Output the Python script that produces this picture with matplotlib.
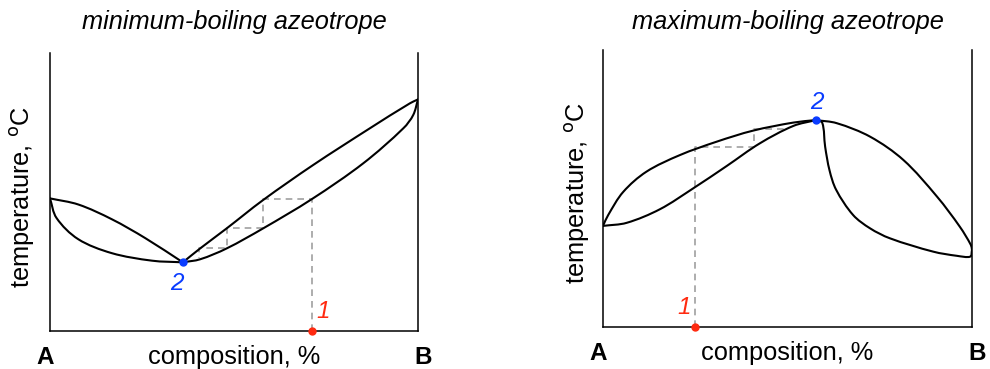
import matplotlib.pyplot as plt
import numpy as np
from matplotlib.patches import PathPatch
from matplotlib.path import Path

plt.rcParams["font.family"] = ["Liberation Sans", "DejaVu Sans"]

# minimum-boiling azeotrope (composition %, temperature in arbitrary units 0-100)
min_vap_left_x = [0, 7.7, 16.8, 25.9, 36.1]
min_vap_left_t = [47.7, 45.5, 40.2, 33.4, 24.7]
min_liq_left_x = [0, 1.8, 7.7, 16.8, 27.7, 36.1]
min_liq_left_t = [47.7, 40.6, 33.0, 28.0, 25.3, 24.7]
min_vap_right_x = [36.1, 40.8, 48.0, 57.9, 71.5, 86.9, 97.8, 100]
min_vap_right_t = [24.7, 29.7, 36.9, 47.1, 59.7, 72.9, 81.9, 83.3]
min_liq_right_x = [36.1, 40.8, 48.0, 57.9, 71.1, 85.1, 96.0, 98.7, 100]
min_liq_right_t = [24.7, 25.8, 29.7, 36.9, 47.4, 60.3, 72.9, 77.7, 83.3]
min_step_x = [71.1, 71.1, 57.8, 57.8, 48.0, 48.0, 40.6, 40.6]
min_step_t = [0, 47.4, 47.4, 36.9, 36.9, 29.7, 29.7, 26.2]
min_start = (71.1, 0)
min_azeo = (36.1, 24.7)

# maximum-boiling azeotrope
max_liq_left_x = [0, 1.4, 5.5, 11.8, 20.9, 30.8, 40.7, 51.6, 57.7]
max_liq_left_t = [36.5, 40.4, 48.8, 56.1, 62.1, 66.9, 70.9, 73.8, 74.7]
max_vap_left_x = [0, 6.4, 15.4, 24.5, 33.5, 42.5, 51.6, 57.7]
max_vap_left_t = [36.5, 37.6, 42.5, 50.1, 58.1, 66.3, 72.6, 74.7]
max_vap_right_x = [57.7, 63.3, 72.4, 81.4, 90.5, 96.7, 99.7, 100]
max_vap_right_t = [74.7, 73.6, 68.7, 60.3, 47.1, 36.2, 29.6, 27.8]
max_liq_right_x = [57.7, 59.4, 60.2, 61.4, 63.2, 67.8, 72.4, 77.8, 89.5, 95.9,
                   99.5, 100]
max_liq_right_t = [74.7, 73.8, 65.1, 56.5, 49.5, 40.4, 35.6, 32.0, 27.2, 25.7,
                   25.4, 27.8]
max_step_x = [24.9, 24.9, 40.9, 40.9, 49.8]
max_step_t = [0, 65.1, 65.1, 71.4, 71.4]
max_start = (24.9, 0)
max_azeo = (57.7, 74.7)

RED = "#ff2a10"
BLUE = "#0a3cff"
FS = 18.3


def smooth_curve(ax, xs, ys):
    # chord-length Hermite spline through the read points, as Bezier segments
    pts = np.column_stack([xs, ys]).astype(float)
    d = np.linalg.norm(np.diff(pts, axis=0), axis=1)
    n = len(pts)
    tang = np.zeros_like(pts)
    tang[0] = (pts[1] - pts[0]) / d[0]
    tang[-1] = (pts[-1] - pts[-2]) / d[-1]
    for i in range(1, n - 1):
        tang[i] = (pts[i + 1] - pts[i - 1]) / (d[i - 1] + d[i])
    verts = [pts[0]]
    codes = [Path.MOVETO]
    for i in range(n - 1):
        verts += [pts[i] + tang[i] * d[i] / 3, pts[i + 1] - tang[i + 1] * d[i] / 3,
                  pts[i + 1]]
        codes += [Path.CURVE4] * 3
    ax.add_patch(PathPatch(Path(verts, codes), fill=False, edgecolor="black",
                           linewidth=1.5, capstyle="round", joinstyle="round"))


def setup(ax, title, ty, ylab_x):
    ax.set_xlim(0, 100)
    ax.set_ylim(0, 100)
    ax.set_xticks([])
    ax.set_yticks([])
    ax.spines["top"].set_visible(False)
    for s in ["left", "right", "bottom"]:
        ax.spines[s].set_linewidth(1.1)
    ax.text(0.5, ty, title, transform=ax.transAxes, ha="center", va="center",
            fontsize=FS, style="italic")
    ax.text(0.5, -0.094, "composition, %", transform=ax.transAxes,
            ha="center", va="center", fontsize=FS)
    ax.text(-0.014, -0.094, "A", transform=ax.transAxes, ha="center",
            va="center", fontsize=17.5, fontweight="bold")
    ax.text(1.014, -0.094, "B", transform=ax.transAxes, ha="center",
            va="center", fontsize=17.5, fontweight="bold")
    ax.text(ylab_x, 0.483, "temperature, $^{\\rm o}$C", transform=ax.transAxes,
            rotation=90, ha="center", va="center", fontsize=FS)


fig = plt.figure(figsize=(9.9, 3.69), dpi=100)
ax1 = fig.add_axes([50 / 990, 38 / 369, 368 / 990, 278 / 369])
ax2 = fig.add_axes([603 / 990, 42 / 369, 369 / 990, 277 / 369])

# left panel
setup(ax1, "minimum-boiling azeotrope", 1.11, -0.076)
ax1.plot(min_step_x, min_step_t, color="#a0a0a0", linewidth=1.2,
         linestyle=(0, (4, 3)), zorder=1)
for xs, ys in [(min_vap_left_x, min_vap_left_t), (min_liq_left_x, min_liq_left_t),
               (min_vap_right_x, min_vap_right_t), (min_liq_right_x, min_liq_right_t)]:
    smooth_curve(ax1, xs, ys)
ax1.plot(*min_start, "o", color=RED, markersize=5, clip_on=False, zorder=5)
ax1.plot(*min_azeo, "o", color=BLUE, markersize=5, zorder=5)
ax1.text(min_start[0] + 3.2, min_start[1] + 7, "1", color=RED, fontsize=17.5,
         style="italic", ha="center", va="center")
ax1.text(min_azeo[0] - 1.5, min_azeo[1] - 7.7, "2", color=BLUE, fontsize=17.5,
         style="italic", ha="center", va="center")

# right panel
setup(ax2, "maximum-boiling azeotrope", 1.10, -0.070)
ax2.plot(max_step_x, max_step_t, color="#a0a0a0", linewidth=1.2,
         linestyle=(0, (4, 3)), zorder=1)
for xs, ys in [(max_liq_left_x, max_liq_left_t), (max_vap_left_x, max_vap_left_t),
               (max_vap_right_x, max_vap_right_t), (max_liq_right_x, max_liq_right_t)]:
    smooth_curve(ax2, xs, ys)
ax2.plot(*max_start, "o", color=RED, markersize=5, clip_on=False, zorder=5)
ax2.plot(*max_azeo, "o", color=BLUE, markersize=5, zorder=5)
ax2.text(max_start[0] - 3.0, max_start[1] + 7.2, "1", color=RED, fontsize=17.5,
         style="italic", ha="center", va="center")
ax2.text(max_azeo[0] + 0.3, max_azeo[1] + 6.5, "2", color=BLUE, fontsize=17.5,
         style="italic", ha="center", va="center")

fig.savefig("out.png", dpi=100)
